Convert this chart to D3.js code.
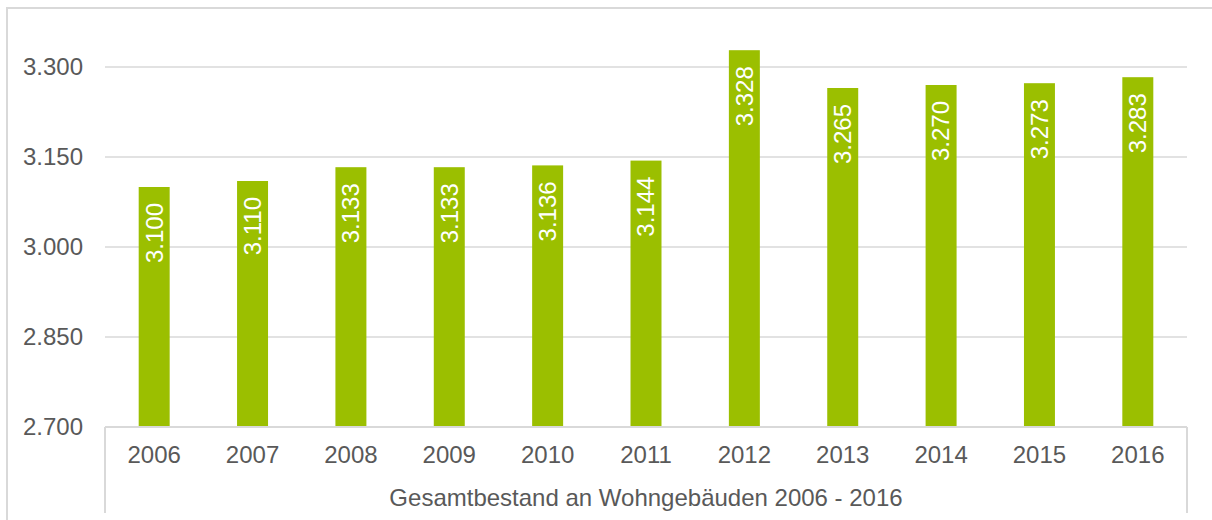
<!DOCTYPE html>
<html>
<head>
<meta charset="utf-8">
<script src="https://cdn.jsdelivr.net/npm/d3@7"></script>
<style>
  body { margin: 0; background: #fff; }
  svg { display: block; font-family: "Liberation Sans", Arial, sans-serif; }
</style>
</head>
<body>
<div id="chart"></div>
<script>
// data
const years = ["2006", "2007", "2008", "2009", "2010", "2011", "2012", "2013", "2014", "2015", "2016"];
const values = [3100, 3110, 3133, 3133, 3136, 3144, 3328, 3265, 3270, 3273, 3283];
const yTicks = [2700, 2850, 3000, 3150, 3300];
const groupLabel = "Gesamtbestand an Wohngebäuden 2006 - 2016";

const W = 1212, H = 520;
const plotLeft = 105, plotRight = 1187, plotTop = 67, plotBase = 427;
const grid = "#d9d9d9", textCol = "#595959", barCol = "#9bbf00";

const de = d3.formatLocale({decimal: ",", thousands: ".", grouping: [3], currency: ["", "€"]});
const fmt = de.format(",.0f");

let svg = d3.select("#chart").append("svg")
    .attr("width", W)
    .attr("height", H);

// outer frame (runs off the right / bottom edge)
svg.append("rect")
    .attr("x", 7).attr("y", 8)
    .attr("width", W + 10).attr("height", H + 10)
    .style("fill", "none")
    .style("stroke", grid)
    .style("stroke-width", 2);

let x = d3.scaleBand()
    .domain(years)
    .range([plotLeft, plotRight])
    .paddingInner(0.685)
    .paddingOuter(0.3425);

let y = d3.scaleLinear()
    .domain([2700, 3300])
    .range([plotBase, plotTop]);

// gridlines
svg.append("g")
    .selectAll("line")
    .data(yTicks.slice(1))
    .enter().append("line")
    .attr("x1", plotLeft).attr("x2", plotRight)
    .attr("y1", d => y(d)).attr("y2", d => y(d))
    .style("stroke", grid)
    .style("stroke-width", 1.5);

// y labels
svg.append("g")
    .selectAll("text")
    .data(yTicks)
    .enter().append("text")
    .attr("x", 83)
    .attr("y", d => y(d))
    .attr("dy", "0.35em")
    .style("text-anchor", "end")
    .style("font-size", "24px")
    .style("fill", textCol)
    .text(d => fmt(d));

// bars
let bars = svg.append("g")
    .selectAll("g")
    .data(years.map((yr, i) => ({year: yr, value: values[i]})))
    .enter().append("g");

bars.append("rect")
    .attr("x", d => x(d.year))
    .attr("width", x.bandwidth())
    .attr("y", d => y(d.value))
    .attr("height", d => plotBase - y(d.value))
    .style("fill", barCol);

bars.append("text")     //labels inside bars
    .attr("transform", d => "translate(" + (x(d.year) + x.bandwidth() / 2) + "," + (y(d.value) + 16) + ") rotate(-90)")
    .attr("dy", "0.35em")
    .style("text-anchor", "end")
    .style("font-size", "24px")
    .style("fill", "#fff")
    .text(d => fmt(d.value));

// category axis box
let ax = svg.append("g")
    .style("stroke", grid)
    .style("stroke-width", 2);
ax.append("line").attr("x1", plotLeft).attr("x2", plotRight).attr("y1", plotBase).attr("y2", plotBase);
ax.append("line").attr("x1", plotLeft).attr("x2", plotLeft).attr("y1", plotBase).attr("y2", 513);
ax.append("line").attr("x1", plotRight).attr("x2", plotRight).attr("y1", plotBase).attr("y2", 513);

svg.append("g")
    .selectAll("text")
    .data(years)
    .enter().append("text")
    .attr("x", d => x(d) + x.bandwidth() / 2)
    .attr("y", 463)
    .style("text-anchor", "middle")
    .style("font-size", "24px")
    .style("fill", textCol)
    .text(d => d);

svg.append("text")
    .attr("x", (plotLeft + plotRight) / 2)
    .attr("y", 506)
    .style("text-anchor", "middle")
    .style("font-size", "24px")
    .style("fill", textCol)
    .text(groupLabel);
</script>
</body>
</html>
